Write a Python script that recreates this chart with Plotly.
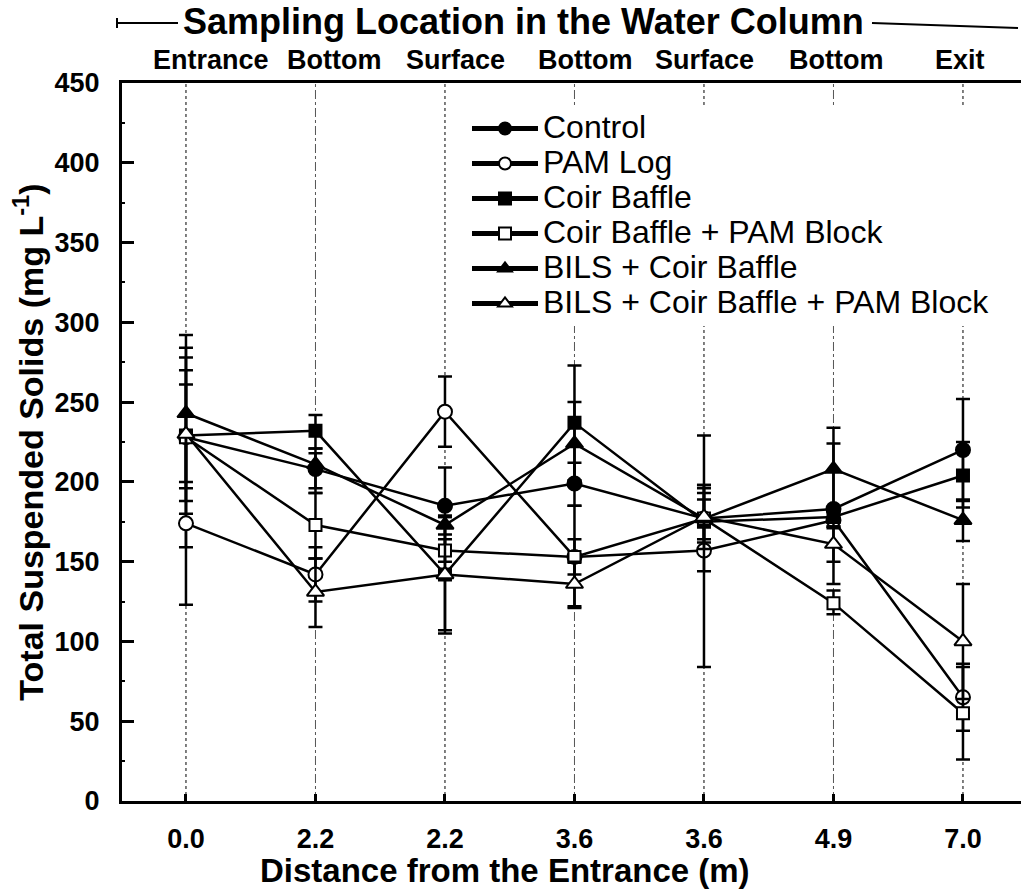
import plotly.graph_objects as go

# Sampling stations along the channel
positions = [0, 1, 2, 3, 4, 5, 6]
distance_labels = ["0.0", "2.2", "2.2", "3.6", "3.6", "4.9", "7.0"]
location_labels = ["Entrance", "Bottom", "Surface", "Bottom", "Surface", "Bottom", "Exit"]

# Total suspended solids (mg/L) per treatment
control = [228, 208, 185, 199, 177, 183, 220]
pam_log = [174, 142, 244, 153, 157, 176, 65]
coir_baffle = [229, 232, 142, 237, 175, 178, 204]
coir_pam = [228, 173, 157, 153, 177, 124, 55]
bils_coir = [243, 211, 173, 224, 177, 208, 176]
bils_coir_pam = [230, 131, 142, 136, 178, 161, 100]

# Error bar extents (upper, lower)
control_up = [56, 13, 24, 13, 21, 41, 32]
control_dn = [69, 12, 25, 14, 21, 47, 32]
pam_log_up = [51, 17, 22, 11, 72, 5, 21]
pam_log_dn = [51, 17, 22, 11, 73, 5, 21]
coir_baffle_up = [49, 10, 36, 36, 14, 6, 21]
coir_baffle_dn = [49, 11, 35, 36, 13, 6, 20]
coir_pam_up = [42, 20, 7, 32, 19, 8, 29]
coir_pam_dn = [40, 21, 7, 32, 19, 7, 29]
bils_coir_up = [49, 7, 6, 26, 16, 26, 13]
bils_coir_dn = [47, 18, 6, 26, 13, 26, 13]
bils_coir_pam_up = [31, 21, 36, 14, 20, 11, 36]
bils_coir_pam_dn = [30, 22, 37, 14, 34, 11, 36]

series = [
    ("Control", control, control_up, control_dn, "circle", "black", 14),
    ("PAM Log", pam_log, pam_log_up, pam_log_dn, "circle", "white", 14),
    ("Coir Baffle", coir_baffle, coir_baffle_up, coir_baffle_dn, "square", "black", 12),
    ("Coir Baffle + PAM Block", coir_pam, coir_pam_up, coir_pam_dn, "square", "white", 12),
    ("BILS + Coir Baffle", bils_coir, bils_coir_up, bils_coir_dn, "triangle-up", "black", 15),
    ("BILS + Coir Baffle + PAM Block", bils_coir_pam, bils_coir_pam_up, bils_coir_pam_dn,
     "triangle-up", "white", 15),
]

W, H = 1021, 892
L, R, T, B = 122, 0, 83, 91


def px_x(p):
    return (p - L) / (W - L - R)


def px_y(p):
    return (H - B - p) / (H - T - B)


FONT = "Liberation Sans, Arial, sans-serif"
LEGEND_TEXT = '<span style="font-size:32px">{}</span>'

fig = go.Figure()
for name, vals, up, dn, sym, fill, size in series:
    fig.add_trace(go.Scatter(
        x=positions, y=vals, name=LEGEND_TEXT.format(name), legendgroup=name,
        mode="lines+markers",
        line=dict(color="black", width=2.5),
        marker=dict(symbol=sym, size=size, color=fill, line=dict(color="black", width=2)),
        error_y=dict(type="data", symmetric=False, array=up, arrayminus=dn,
                     color="black", thickness=2.5, width=7),
    ))

# Vertical guide lines at each station
for i, p in enumerate(positions):
    if i % 2 == 0:
        fig.add_shape(type="line", x0=p, x1=p, y0=0, y1=1, xref="x", yref="paper",
                      line=dict(color="black", width=1, dash="dot"), layer="below")
    else:
        fig.add_shape(type="line", x0=p, x1=p, y0=0, y1=1, xref="x", yref="paper",
                      line=dict(color="#555555", width=1, dash="dashdot"), layer="below")

# Station location labels along the top
loc_px = [211, 334, 455, 585, 704, 836, 960]
for lab, xp in zip(location_labels, loc_px):
    fig.add_annotation(text=lab, x=px_x(xp), y=px_y(60), xref="paper", yref="paper",
                       showarrow=False, xanchor="center", yanchor="middle",
                       font=dict(family=FONT, size=27, color="black", weight="bold"))

fig.add_annotation(text="Sampling Location in the Water Column", x=px_x(523), y=px_y(22),
                   xref="paper", yref="paper", showarrow=False, xanchor="center",
                   yanchor="middle", font=dict(family=FONT, size=36, color="black", weight="bold"))

# Bracket lines beside the header
fig.add_shape(type="line", x0=px_x(117), x1=px_x(178), y0=px_y(23), y1=px_y(23),
              xref="paper", yref="paper", line=dict(color="black", width=2))
fig.add_shape(type="line", x0=px_x(117), x1=px_x(117), y0=px_y(18), y1=px_y(28),
              xref="paper", yref="paper", line=dict(color="black", width=2))
fig.add_shape(type="line", x0=px_x(872), x1=px_x(1018), y0=px_y(23), y1=px_y(28),
              xref="paper", yref="paper", line=dict(color="black", width=2))

fig.add_annotation(text="Distance from the Entrance (m)", x=px_x(505), y=px_y(870),
                   xref="paper", yref="paper", showarrow=False, xanchor="center",
                   yanchor="middle", font=dict(family=FONT, size=33, color="black", weight="bold"))

fig.update_layout(
    width=W, height=H,
    margin=dict(l=L, r=R, t=T, b=B, autoexpand=False),
    paper_bgcolor="white", plot_bgcolor="white",
    font=dict(family=FONT, color="black"),
    showlegend=True,
    legend=dict(x=px_x(467), y=px_y(106), xanchor="left", yanchor="top",
                bgcolor="white", font=dict(family=FONT, size=24.6, color="black"),
                traceorder="grouped", tracegroupgap=0, itemwidth=66, itemsizing="constant"),
    xaxis=dict(range=[-0.494, 6.448], tickmode="array", tickvals=positions,
               ticktext=distance_labels, ticks="inside", ticklen=7, tickwidth=2.5,
               tickcolor="black", showline=True, linewidth=3, linecolor="black",
               mirror=True, showgrid=False, zeroline=False, ticklabelstandoff=12,
               tickfont=dict(family=FONT, size=27, color="black", weight="bold")),
    yaxis=dict(range=[0, 450], tickmode="linear", tick0=0, dtick=50,
               ticks="inside", ticklen=12, tickwidth=3, tickcolor="black",
               minor=dict(dtick=25, ticks="inside", ticklen=3, tickwidth=2, tickcolor="black"),
               showline=True, linewidth=3, linecolor="black", showgrid=False,
               zeroline=False, ticklabelstandoff=14,
               tickfont=dict(family=FONT, size=27, color="black", weight="bold"),
               title=dict(text="Total Suspended Solids (mg L<sup>-1</sup>)", standoff=1,
                          font=dict(family=FONT, size=34, color="black", weight="bold"))),
)

fig.write_html("out.html")
